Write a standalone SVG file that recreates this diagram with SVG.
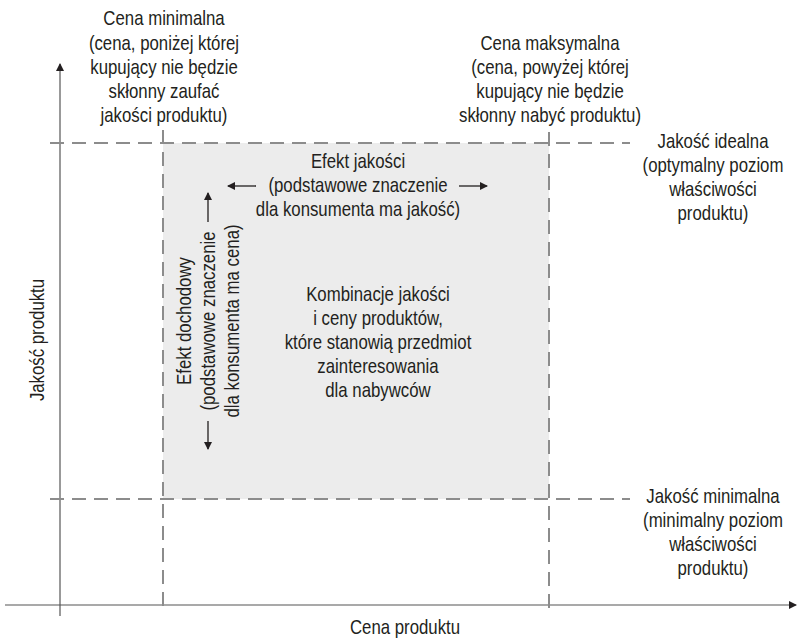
<svg xmlns="http://www.w3.org/2000/svg" width="799" height="639" viewBox="0 0 799 639">
<defs>
<marker id="ah" markerWidth="8" markerHeight="8" refX="7" refY="4" orient="auto" markerUnits="userSpaceOnUse">
<path d="M0,0 L8,4 L0,8 Z" fill="#231f20"/>
</marker>
<style>
text{font-family:"Liberation Sans",Arial,sans-serif;font-size:20px;fill:#231f20;text-anchor:middle}
.dash{stroke:#8c8c8c;stroke-width:2;stroke-dasharray:14 8;fill:none}
.axis{stroke:#555;stroke-width:1.2;fill:none}
.arr{stroke:#231f20;stroke-width:1.3;fill:none}
</style>
</defs>
<rect x="163" y="143" width="386" height="356" fill="#ececec"/>
<g id="connectors">
<line class="axis" x1="60" y1="616" x2="60" y2="64" marker-end="url(#ah)"/>
<line class="axis" x1="5" y1="605" x2="796" y2="605" marker-end="url(#ah)"/>
<line class="dash" x1="50" y1="143" x2="630" y2="143"/>
<line class="dash" x1="50" y1="499" x2="630" y2="499"/>
<line class="dash" x1="163" y1="130" x2="163" y2="614"/>
<line class="dash" x1="549" y1="132" x2="549" y2="614"/>
<line class="arr" x1="256" y1="186" x2="228" y2="186" marker-end="url(#ah)"/>
<line class="arr" x1="459" y1="186" x2="487" y2="186" marker-end="url(#ah)"/>
<line class="arr" x1="208" y1="222" x2="208" y2="193" marker-end="url(#ah)"/>
<line class="arr" x1="208" y1="421" x2="208" y2="449" marker-end="url(#ah)"/>
</g>
<g id="cena-minimalna" transform="translate(164,0) scale(0.84,1)">
<text x="0" y="25">Cena minimalna</text>
<text x="0" y="50">(cena, poniżej której</text>
<text x="0" y="74">kupujący nie będzie</text>
<text x="0" y="98">skłonny zaufać</text>
<text x="0" y="122">jakości produktu)</text>
</g>
<g id="cena-maksymalna" transform="translate(550,0) scale(0.84,1)">
<text x="0" y="50">Cena maksymalna</text>
<text x="0" y="74">(cena, powyżej której</text>
<text x="0" y="98">kupujący nie będzie</text>
<text x="0" y="122">skłonny nabyć produktu)</text>
</g>
<g id="jakosc-idealna" transform="translate(713,0) scale(0.84,1)">
<text x="0" y="148">Jakość idealna</text>
<text x="0" y="172">(optymalny poziom</text>
<text x="0" y="196">właściwości</text>
<text x="0" y="220">produktu)</text>
</g>
<g id="jakosc-minimalna" transform="translate(713,0) scale(0.84,1)">
<text x="0" y="503">Jakość minimalna</text>
<text x="0" y="527">(minimalny poziom</text>
<text x="0" y="551">właściwości</text>
<text x="0" y="575">produktu)</text>
</g>
<g id="efekt-jakosci" transform="translate(358,0) scale(0.84,1)">
<text x="0" y="168">Efekt jakości</text>
<text x="0" y="192">(podstawowe znaczenie</text>
<text x="0" y="216">dla konsumenta ma jakość)</text>
</g>
<g id="kombinacje" transform="translate(378,0) scale(0.84,1)">
<text x="0" y="301">Kombinacje jakości</text>
<text x="0" y="325">i ceny produktów,</text>
<text x="0" y="349">które stanowią przedmiot</text>
<text x="0" y="373">zainteresowania</text>
<text x="0" y="397">dla nabywców</text>
</g>
<g id="efekt-dochodowy" transform="translate(210,321) rotate(-90) scale(0.84,1)">
<text x="0" y="-19">Efekt dochodowy</text>
<text x="0" y="5">(podstawowe znaczenie</text>
<text x="0" y="29">dla konsumenta ma cena)</text>
</g>
<g id="os-y" transform="translate(44,340) rotate(-90) scale(0.84,1)">
<text x="0" y="0">Jakość produktu</text>
</g>
<g id="os-x" transform="translate(405,0) scale(0.84,1)">
<text x="0" y="634">Cena produktu</text>
</g>
</svg>
